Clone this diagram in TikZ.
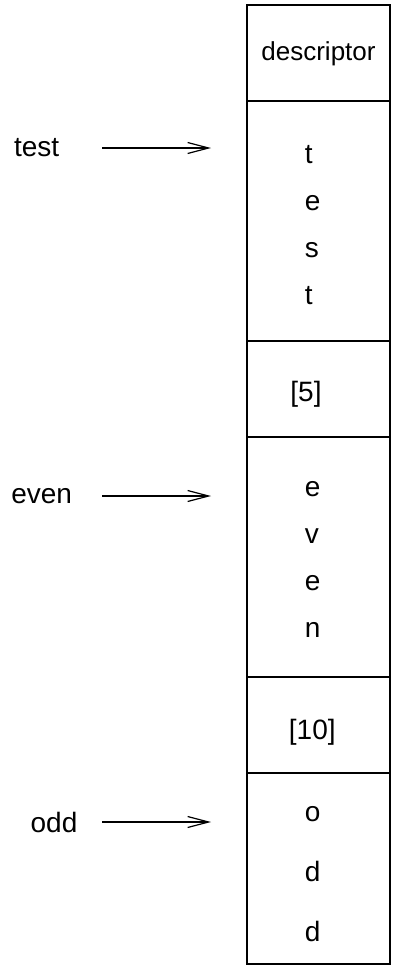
\documentclass[tikz,border=0pt]{standalone}
\usepackage{fontspec}
\setmainfont{Liberation Sans}
\usetikzlibrary{arrows.meta,positioning}

\tikzset{
	cell/.style={draw, line width=0.7pt, minimum width=71.5pt, inner sep=0pt, outer sep=0pt},
	chars/.style={anchor=west, inner sep=0pt, align=left, font=\fontsize{14}{23.5}\selectfont},
	ptr/.style={-{Straight Barb[length=10.5pt,width=5.5pt]}, line width=0.6pt},
	lbl/.style={inner sep=0pt, font=\fontsize{14}{16}\selectfont}
}

\begin{document}
\begin{tikzpicture}[x=0.5pt,y=-0.5pt]
	\useasboundingbox (0,0) rectangle (393,969);
	
	% the stacked cells
	\node[cell, minimum height=48pt, anchor=north west] (desc) at (247,5) {};
	\node[cell, minimum height=120pt, below=0pt of desc] (strtest) {};
	\node[cell, minimum height=48pt, below=0pt of strtest] (len5) {};
	\node[cell, minimum height=120pt, below=0pt of len5] (streven) {};
	\node[cell, minimum height=48pt, below=0pt of streven] (len10) {};
	\node[cell, minimum height=95.5pt, below=0pt of len10] (strodd) {};
	
	% what the cells hold
	\node[inner sep=0pt, font=\fontsize{13}{15}\selectfont] (desctext) at (318.5,54) {descriptor};
	\node[chars] (testchars) at (304.5,225) {t\\e\\s\\t};
	\node[chars] (len5text) at (290,394) {[5]};
	\node[chars] (evenchars) at (304.5,559.5) {e\\v\\e\\n};
	\node[chars] (len10text) at (288.5,732) {[10]};
	\node[chars, font=\fontsize{14}{30}\selectfont] (oddchars) at (304.5,874) {o\\d\\d};
	
	% names pointing into the cells
	\node[lbl] (test) at (36.7,148) {test};
	\node[lbl] (even) at (41.7,496) {even};
	\node[lbl] (odd) at (54,822) {odd};
	
	\draw[ptr] ([xshift=-72.5pt]strtest.west |- test) -- ([xshift=-18pt]strtest.west |- test);
	\draw[ptr] ([xshift=-72.5pt]streven.west |- even) -- ([xshift=-18pt]streven.west |- even);
	\draw[ptr] ([xshift=-72.5pt]strodd.west |- odd) -- ([xshift=-18pt]strodd.west |- odd);
\end{tikzpicture}
\end{document}
